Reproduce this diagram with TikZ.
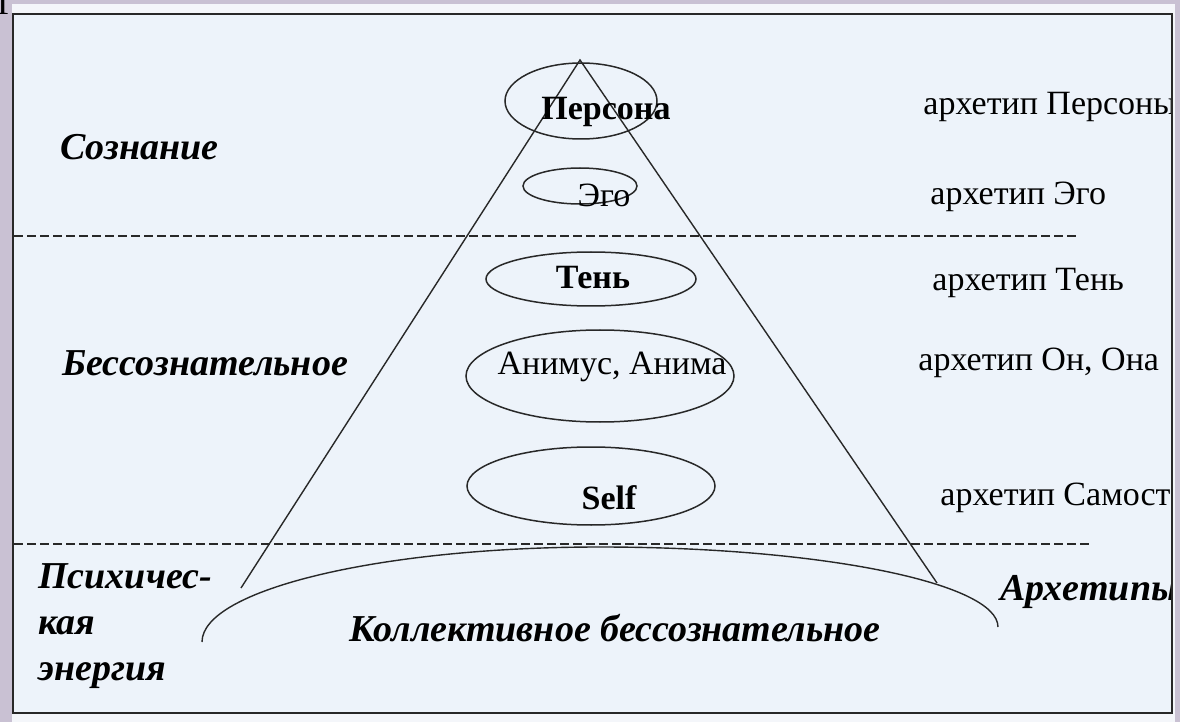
\documentclass[tikz,border=0pt]{standalone}
\usepackage{fontspec}
\setmainfont{Liberation Serif}
\definecolor{jung_back}{RGB}{201, 193, 211}
\definecolor{jung_strip}{RGB}{244, 246, 250}
\definecolor{jung_panel}{RGB}{237, 243, 250}
\definecolor{jung_line}{RGB}{40, 40, 40}
\usetikzlibrary{shapes.geometric}

\begin{document}
\begin{tikzpicture}[x=0.5pt, y=-0.5pt,
        every node/.style={font=\fontsize{17}{20}\selectfont, text=black, inner sep=0pt},
        oval/.style={draw=jung_line, line width=0.75pt, ellipse, inner sep=0pt},
        level/.style={font=\fontsize{19}{23}\selectfont\bfseries\itshape, anchor=west, align=left},
        arch/.style={anchor=west},
        inner/.style={font=\fontsize{17}{20}\selectfont\bfseries},
        edge/.style={draw=jung_line, line width=0.7pt},
        divider/.style={draw=jung_line, line width=1.3pt, dash pattern=on 4.5pt off 2pt},
      ]
        \useasboundingbox (0,0) rectangle (1180,722);
        \fill[jung_back]  (0,0)   rectangle (1180,722);
        \fill[jung_strip] (12,4)  rectangle (1175,722);
        \fill[jung_panel] (13,14) rectangle (1172,713);

        \begin{scope}
        \clip (13,14) rectangle (1172,713);

        \node[oval, minimum width=76pt,  minimum height=38pt] (persona) at (581,101) {};
        \node[oval, minimum width=57pt,  minimum height=18pt] (ego)     at (580,186) {};
        \node[oval, minimum width=105pt, minimum height=27pt] (shadow)  at (591,279) {};
        \node[oval, minimum width=134pt, minimum height=46pt] (anima)   at (600,376) {};
        \node[oval, minimum width=124pt, minimum height=39pt] (self)    at (591,486) {};

        \coordinate (apex)  at (580,60);
        \coordinate (baseL) at (241,588);
        \coordinate (baseR) at (937,583);
        \draw[edge] (baseL) -- (apex) -- (baseR);

        \draw[divider] (14,236) -- (1078,236);
        \draw[divider] (14,544) -- (1092,544);

        \draw[edge] (202,642) .. controls (202,590) and (380,547) .. (600,547)
                    .. controls (820,547) and (998,583) .. (998,627);

        \node[inner] (personaT) at (606,112) {Персона};
        \node        (egoT)     at (604,195) {Эго};
        \node[inner] (shadowT)  at (593,278) {Тень};
        \node        (animaT)   at (612,367) {Анимус, Анима};
        \node[inner] (selfT)    at (609,498) {Self};

        \node[level] (conscious)   at (60,147)  {Сознание};
        \node[level] (unconscious) at (62,363)  {Бессознательное};
        \node[level] (psychic)     at (38,626)  {Психичес-\\кая\\энергия};
        \node[level, anchor=center] (collective) at (615,628) {Коллективное бессознательное};
        \node[level] (archetypes)  at (1000,592) {Архетипы};

        \node[arch] (aPersona) at (923,107) {архетип Персоны};
        \node[arch] (aEgo)     at (930,197) {архетип Эго};
        \node[arch] (aShadow)  at (932,283) {архетип Тень};
        \node[arch] (aAnima)   at (918,363) {архетип Он, Она};
        \node[arch] (aSelf)    at (940,498) {архетип Самость};
        \end{scope}

        \draw[jung_line, line width=1.2pt] (13,14) rectangle (1172,713);
        \node[anchor=base west] (corner) at (-3,15) {Г};
      \end{tikzpicture}
\end{document}
